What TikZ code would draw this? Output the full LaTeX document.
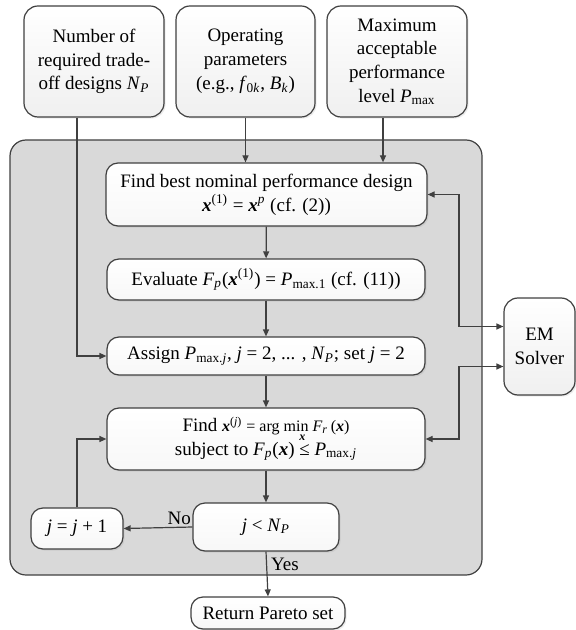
\documentclass[tikz,border=0pt]{standalone}
\usepackage{fontspec}
\setmainfont{Liberation Serif}
\usetikzlibrary{arrows.meta,shadows}
\newcommand{\vx}{\textbf{\textit{x}}}
\newcommand{\ivar}[1]{\textit{#1}}

\begin{document}
\begin{tikzpicture}[x=0.5pt,y=-0.5pt,
  every node/.style={font=\fontsize{9.5}{11.9}\selectfont},
  inbox/.style={draw=black!75, line width=0.6pt, rounded corners=7pt, align=center,
    top color=white, bottom color=black!6, inner sep=1pt,
    drop shadow={opacity=0.15, shadow xshift=0.8pt, shadow yshift=-0.8pt}},
  stepbox/.style={draw=black!75, line width=0.6pt, rounded corners=6pt, align=center,
    top color=white, bottom color=black!3, inner sep=1pt,
    drop shadow={opacity=0.15, shadow xshift=0.8pt, shadow yshift=-0.8pt}},
  panel/.style={draw=black!75, fill=black!15, line width=0.6pt, rounded corners=8pt},
  link/.style={draw=black!75, line width=0.6pt, -{Triangle[length=3.5pt,width=3pt]}},
  both/.style={draw=black!75, line width=0.6pt,
    {Triangle[length=3.5pt,width=3pt]}-{Triangle[length=3.5pt,width=3pt]}}
]
  \useasboundingbox (0,0) rectangle (576,630);

  % grey frame of the loop
  \draw[panel] (10,140) rectangle (482,575);

  % inputs
  \node[inbox, minimum width=70pt, minimum height=55.5pt] (npar) at (94,61.5)
    {Number of\\required trade-\\off designs \ivar{N}\textsubscript{\ivar{P}}};
  \node[inbox, minimum width=69.5pt, minimum height=55.5pt] (oppar) at (245.5,61.5)
    {Operating\\parameters\\(e.g., \ivar{f}\textsubscript{0\ivar{k}}, \ivar{B}\textsubscript{\ivar{k}})};
  \node[inbox, minimum width=70pt, minimum height=55.5pt] (pmax) at (397,61.5)
    {Maximum\\acceptable\\performance\\level \ivar{P}\textsubscript{max}};

  % steps
  \node[stepbox, minimum width=160.5pt, minimum height=31.5pt] (nominal) at (266.5,194.5)
    {Find best nominal performance design\\\vx\textsuperscript{(1)} = \vx\textsuperscript{\ivar{p}} (cf. (2))};
  \node[stepbox, minimum width=159pt, minimum height=20.5pt] (evalp) at (266,279.5)
    {Evaluate \ivar{F}\textsubscript{\ivar{p}}(\vx\textsuperscript{(1)}) = \ivar{P}\textsubscript{max.1} (cf. (11))};
  \node[stepbox, minimum width=159pt, minimum height=19pt] (assign) at (266,356)
    {Assign \ivar{P}\textsubscript{max.\ivar{j}}, \ivar{j} = 2, ... , \ivar{N}\textsubscript{\ivar{P}}; set \ivar{j} = 2};
  \node[stepbox, minimum width=159pt, minimum height=31pt] (findj) at (266,439)
    {Find {\fontsize{8}{9}\selectfont \vx\textsuperscript{(\ivar{j})} = arg min\llap{\raisebox{-1.3ex}[0pt][0pt]{\fontsize{6}{6}\selectfont\vx}\hspace{0.2em}} \ivar{F}\textsubscript{\ivar{r}}\,(\vx)}\\
     subject to \ivar{F}\textsubscript{\ivar{p}}(\vx) ≤ \ivar{P}\textsubscript{max.\ivar{j}}};
  \node[stepbox, minimum width=73pt, minimum height=24pt] (cond) at (266,527)
    {\ivar{j} < \ivar{N}\textsubscript{\ivar{P}}};
  \node[stepbox, minimum width=46pt, minimum height=20.5pt] (incj) at (77,528.5)
    {\ivar{j} = \ivar{j} + 1};
  \node[stepbox, minimum width=77pt, minimum height=16pt] (pareto) at (268,613)
    {Return Pareto set};

  % solver
  \node[inbox, minimum width=35.5pt, minimum height=48.5pt] (solver) at (539.5,346.5)
    {EM\\Solver};
  \coordinate (bus) at (459,0);

  % flow
  \draw[link] (npar.south -| incj.north) |- (assign.west);
  \draw[link] (oppar.south) -- (oppar.south |- nominal.north);
  \draw[link] ([xshift=-7pt]pmax.south) -- ([xshift=-7pt]pmax.south |- nominal.north);
  \draw[link] (nominal) -- (evalp);
  \draw[link] (evalp) -- (assign);
  \draw[link] (assign) -- (findj);
  \draw[link] (findj) -- (cond);
  \draw[link] (cond.west) -- node[pos=0.19, above, inner sep=1pt] {No} (incj.east);
  \draw[link] (cond.south) -- node[pos=0.28, right, inner sep=2pt] {Yes} (pareto.north);
  \draw[link] (incj.north) |- (findj.west);

  % solver calls
  \draw[both] (nominal.east) -- (nominal.east -| bus) |- ([yshift=10pt]solver.west);
  \draw[both] (findj.east) -- (findj.east -| bus) |- ([yshift=-10pt]solver.west);
\end{tikzpicture}
\end{document}
